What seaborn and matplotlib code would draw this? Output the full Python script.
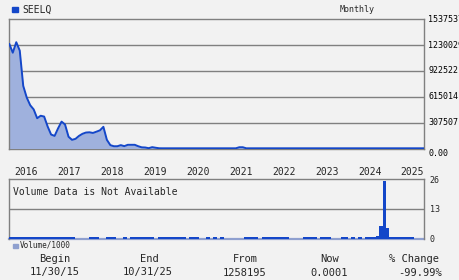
import numpy as np
import pandas as pd
import matplotlib
matplotlib.use("Agg")
import matplotlib.pyplot as plt
import seaborn as sns

sns.set_style("white")
plt.rcParams['font.family'] = ['DejaVu Sans Mono', 'DejaVu Sans']

ticker = "SEELQ"
period = "Monthly"
year_labels = ["2016", "2017", "2018", "2019", "2020", "2021", "2022", "2023", "2024", "2025"]
price_ticks = [0, 307507, 615014, 922522, 1230029, 1537537]
price_tick_labels = ["0.00", "307507", "615014", "922522", "1230029", "1537537"]
vol_ticks = [0, 13, 26]

# monthly close, Nov 2015 .. Oct 2025 (120 months)
price = [1245000, 1140000, 1265000, 1165000, 745000, 607000, 515000, 465000, 360000, 390000,
         380000, 262000, 166000, 150000, 240000, 320000, 285000, 140000, 103000, 115000,
         150000, 175000, 190000, 193000, 185000, 200000, 216000, 258000, 103000, 40000,
         27000, 27000, 40000, 28000, 44000, 44000, 44000, 27000, 14000, 12000,
         4000, 16000, 9000, 3000, 2500, 2500, 2500, 2500, 2500, 2500,
         2500, 2500, 2500, 2500, 2500, 2500, 2500, 2500, 2500, 2500,
         2500, 2500, 2500, 2500, 2500, 2500, 15000, 15000, 2500, 2500,
         2500, 2500, 2500, 2500, 2500, 2500, 2500, 2500, 2500, 2500,
         2500, 2500, 2500, 2500, 2500, 2500, 2500, 2500, 2500, 2500,
         2500, 2500, 2500, 2500, 2500, 2500, 2500, 2500, 2500, 2500,
         2500, 2500, 2500, 2500, 2500, 2500, 2500, 2500, 2500, 2500,
         2500, 2500, 2500, 2500, 2500, 2500, 2500, 2500, 2500, 2500]

# volume / 1000 per month
volume = [0.45, 0.45, 0.45, 0.45, 0.45, 0.45, 0.45, 0.45, 0.45, 0.45,
          0.45, 0.45, 0.45, 0.45, 0.45, 0.45, 0.45, 0.45, 0.45, 0,
          0, 0, 0, 0.45, 0.45, 0.45, 0, 0, 0.45, 0.45,
          0.45, 0, 0, 0.45, 0, 0.45, 0.45, 0.45, 0.45, 0.45,
          0.45, 0.45, 0, 0.45, 0.45, 0.45, 0.45, 0.45, 0.45, 0.45,
          0.45, 0, 0.45, 0.45, 0.45, 0, 0, 0.45, 0, 0.45,
          0, 0.45, 0, 0, 0, 0, 0, 0, 0.45, 0.45,
          0.45, 0.45, 0, 0.45, 0.45, 0.45, 0.45, 0.45, 0.45, 0.45,
          0.45, 0, 0, 0, 0, 0.45, 0.45, 0.45, 0.45, 0,
          0.45, 0.45, 0.45, 0, 0, 0, 0.45, 0.45, 0, 0.45,
          0, 0.45, 0, 0.45, 0.45, 0.45, 1.0, 5.4, 25.2, 4.7,
          0.45, 0.45, 0.45, 0.45, 0.45, 0.45, 0.45, 0, 0, 0]

stat_heads = ["Begin", "End", "From", "Now", "% Change"]
stat_vals = ["11/30/15", "10/31/25", "1258195", "0.0001", "-99.99%"]

months = np.arange(len(price))
df_p = pd.DataFrame({"m": months, "price": price})
df_v = pd.DataFrame({"m": months, "vol": volume})

BG = "#f2f2f2"
LINE = "#1447c9"
FILL = "#9fb1dd"
GRID = "#808080"
VBASE = "#8fa0cf"

fig = plt.figure(figsize=(4.6, 2.8), dpi=100, facecolor=BG)
W, H = 460.0, 280.0
def axrect(l, r, t, b):
    return [l / W, 1 - b / H, (r - l) / W, (b - t) / H]

ax = fig.add_axes(axrect(9.3, 424, 19.3, 148.5))
ax.set_facecolor(BG)
ax.fill_between(df_p["m"], df_p["price"], 0, color=FILL, lw=0, zorder=2)
sns.lineplot(data=df_p, x="m", y="price", ax=ax, color=LINE, lw=1.4, zorder=3)
ax.set_xlim(0, len(price) - 1)
ax.set_ylim(0, price_ticks[-1])
ax.set_yticks(price_ticks)
ax.set_yticklabels(price_tick_labels)
ax.yaxis.tick_right()
ax.tick_params(axis="y", length=0, pad=3, labelsize=6, colors="black")
for lbl in ax.get_yticklabels():
    lbl.set_verticalalignment("center")
ax.get_yticklabels()[0].set_verticalalignment("top")
for y in price_ticks[1:-1]:
    ax.axhline(y, color=GRID, lw=1.0, zorder=1)
xt = np.linspace(4.9, 115.7, len(year_labels))
ax.set_xticks(xt)
ax.set_xticklabels(year_labels)
ax.tick_params(axis="x", length=0, pad=13, labelsize=7)
ax.set_xlabel("")
ax.set_ylabel("")
for s in ax.spines.values():
    s.set_color(GRID)
    s.set_linewidth(1.0)
ax.spines["bottom"].set_zorder(1)

# volume panel
vx = fig.add_axes(axrect(9.3, 424, 179.3, 238.5))
vx.set_facecolor(BG)
sns.barplot(data=df_v, x="m", y="vol", ax=vx, native_scale=True, color=LINE,
            saturation=1, width=1.0, linewidth=0)
for p in vx.patches:
    p.set_clip_on(False)
    p.set_zorder(4)
vx.set_xlim(-0.5, len(volume) - 0.5)
vx.set_ylim(0, vol_ticks[-1])
vx.axhline(13, color=GRID, lw=1.0, zorder=1)
vx.set_yticks(vol_ticks)
vx.yaxis.tick_right()
vx.tick_params(axis="y", length=0, pad=4, labelsize=6)
vx.set_xticks([])
vx.set_xlabel("")
vx.set_ylabel("")
for s in vx.spines.values():
    s.set_color(GRID)
    s.set_linewidth(1.0)
vx.spines["bottom"].set_color(VBASE)
vx.spines["bottom"].set_linewidth(1.6)
vx.spines["bottom"].set_zorder(2)
vx.text(4 / 414.7, 1 - 12.5 / 59.2, "Volume Data is Not Available", transform=vx.transAxes,
        ha="left", va="center", fontsize=7)

# header
fig.patches.append(plt.Rectangle((12.5 / W, 1 - 12 / H), 5 / W, 5 / H, transform=fig.transFigure,
                                 color=LINE, figure=fig))
fig.text(22 / W, 1 - 9.5 / H, ticker, ha="left", va="center", fontsize=7)
fig.text(357 / W, 1 - 9 / H, period, ha="center", va="center", fontsize=6)

# volume legend
fig.patches.append(plt.Rectangle((13 / W, 1 - 248 / H), 4.5 / W, 4.5 / H, transform=fig.transFigure,
                                 color=VBASE, figure=fig))
fig.text(20 / W, 1 - 245.5 / H, "Volume/1000", ha="left", va="center", fontsize=5.5)

# stats
head_x = [55, 149, 245, 330, 414]
val_x = [55, 148, 245, 329, 420]
for hx, vxp, h, v in zip(head_x, val_x, stat_heads, stat_vals):
    fig.text(hx / W, 1 - 259.5 / H, h, ha="center", va="center", fontsize=7.5)
    fig.text(vxp / W, 1 - 272.5 / H, v, ha="center", va="center", fontsize=7.5)

fig.savefig("out.png", dpi=100, facecolor=BG)
